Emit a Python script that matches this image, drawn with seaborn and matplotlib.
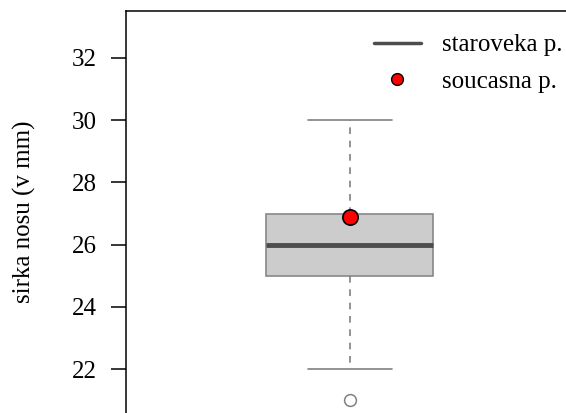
import seaborn as sns
import matplotlib.pyplot as plt
from matplotlib.lines import Line2D

# Ancient population nose widths (mm) and the modern population mean
staroveka = [21, 22, 25, 25, 26, 26, 27, 28, 30]
soucasna = 26.9
yticks = [22, 24, 26, 28, 30, 32]
labels = ["staroveka p.", "soucasna p."]

sns.set_style("ticks")
plt.rcParams["font.family"] = ["Liberation Serif", "DejaVu Serif"]
plt.rcParams["text.color"] = "black"
plt.rcParams["axes.labelcolor"] = "black"
plt.rcParams["ytick.color"] = "black"

fig = plt.figure(figsize=(5.66, 4.13), dpi=100)
ax = fig.add_axes([126 / 566, 0, 440 / 566, 402 / 413])

sns.boxplot(
    y=staroveka, ax=ax, width=0.8, whis=1.5,
    color="#cccccc", linecolor="#888888", linewidth=1.2,
    medianprops=dict(color="#4d4d4d", linewidth=3.5),
    whiskerprops=dict(linestyle=(0, (4, 4)), color="#808080"),
    capprops=dict(color="#808080"),
    flierprops=dict(marker="o", markersize=8.5, markerfacecolor="white",
                    markeredgecolor="#808080", markeredgewidth=1.1),
)
ax.plot([0], [soucasna], "o", color="red", markeredgecolor="black",
        markeredgewidth=1.2, markersize=11, zorder=5)

ax.set_xlim(-1.073, 1.035)
ax.set_ylim(20.59, 33.51)
ax.set_yticks(yticks)
ax.set_xticks([])
ax.set_ylabel("sirka nosu (v mm)", fontsize=18, labelpad=26)
ax.tick_params(axis="y", labelsize=18, length=11, width=1.1, pad=10)
for s in ["right", "bottom"]:
    ax.spines[s].set_visible(False)
for s in ["left", "top"]:
    ax.spines[s].set_color("black")
    ax.spines[s].set_linewidth(1.1)

handles = [
    Line2D([], [], color="#4d4d4d", linewidth=2.5),
    Line2D([], [], marker="o", linestyle="none", color="red",
           markeredgecolor="black", markersize=8.5),
]
ax.legend(handles, labels, loc="upper right", frameon=False, fontsize=18,
          handlelength=1.85, handletextpad=0.85, labelspacing=0.55,
          borderaxespad=0.52, bbox_to_anchor=(1.044, 1.0))

fig.savefig("out.png", dpi=100)
